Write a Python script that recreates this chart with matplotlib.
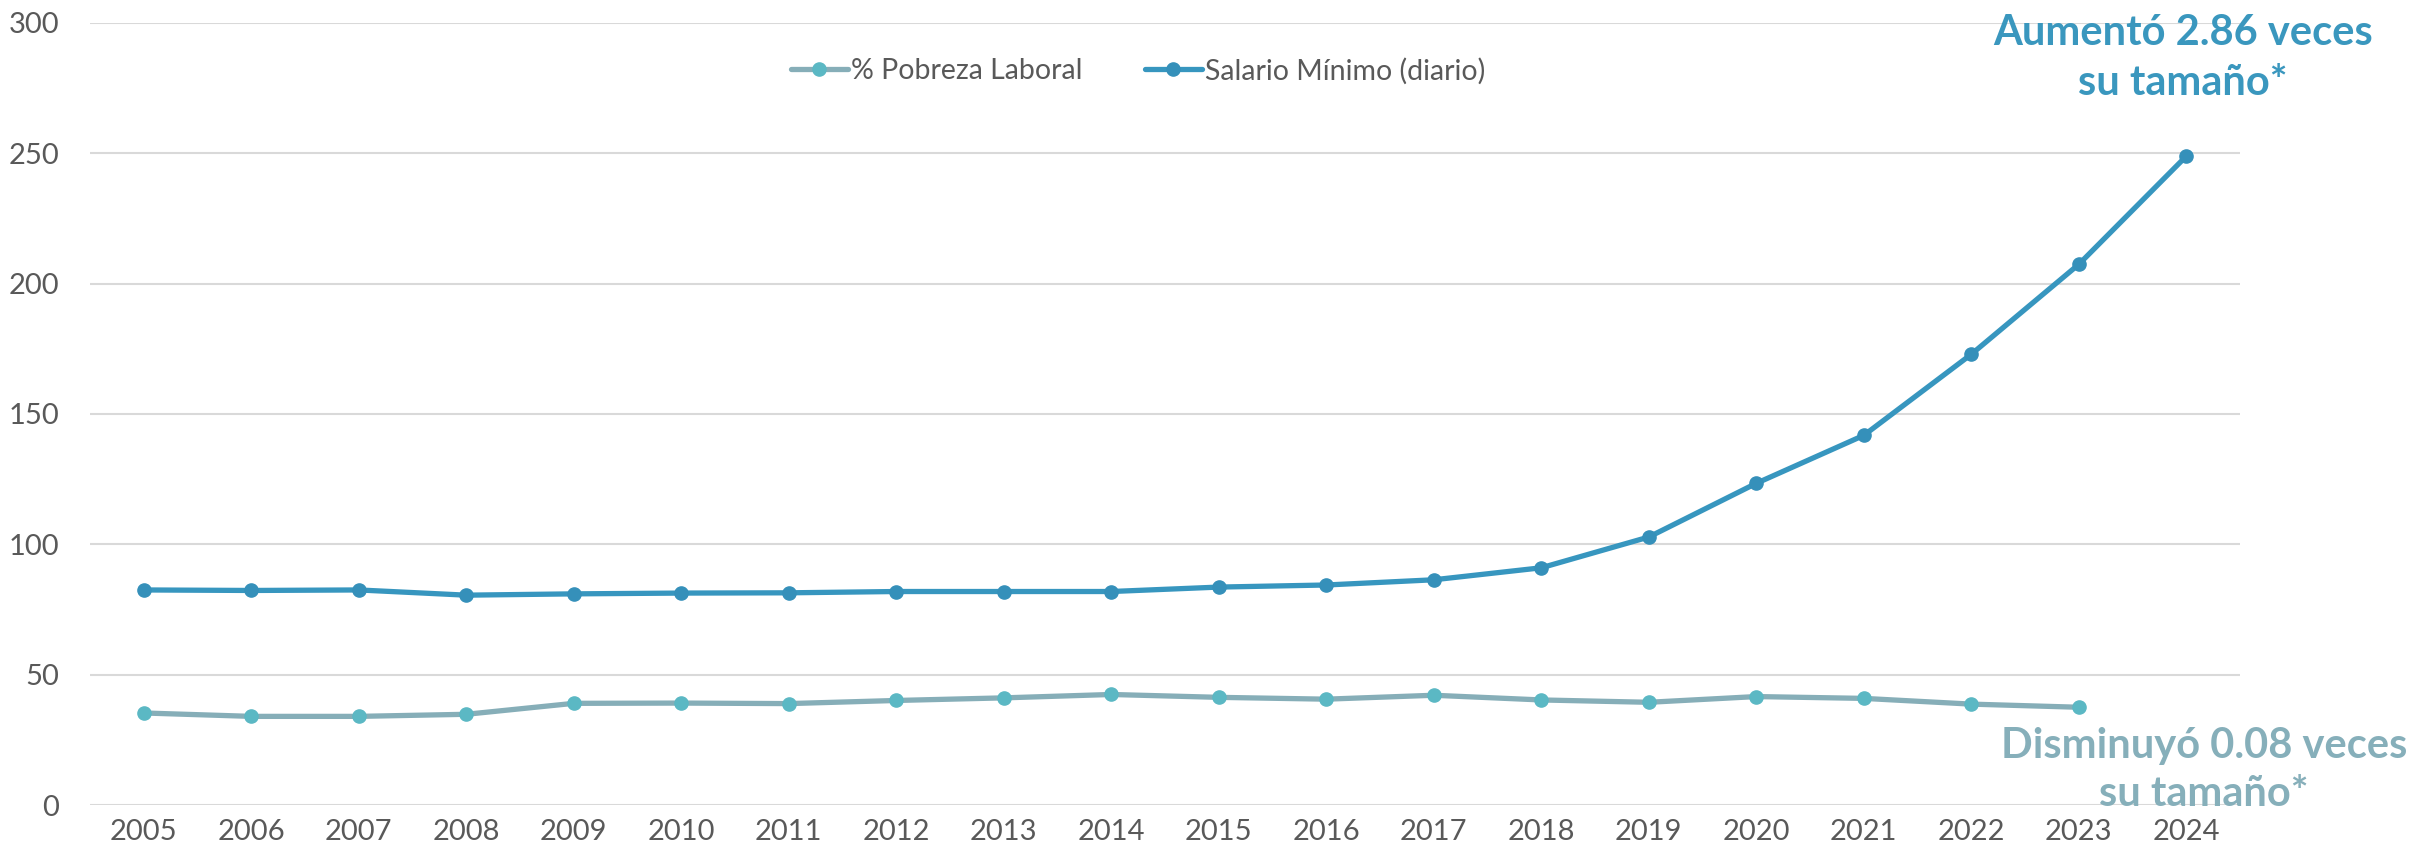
import matplotlib
matplotlib.use("Agg")
import matplotlib.pyplot as plt
from matplotlib.ticker import FixedLocator

years = list(range(2005, 2025))
salario = [82.5, 82.3, 82.5, 80.5, 81.0, 81.3, 81.4, 81.9, 81.9, 81.9, 83.6, 84.4, 86.4, 91.0, 102.8,
           123.4, 141.8, 172.9, 207.4, 248.9]
pobreza_years = list(range(2005, 2024))
pobreza = [35.3, 34.0, 34.0, 34.8, 39.0, 39.1, 38.9, 40.1, 41.1, 42.4, 41.3, 40.6, 42.1, 40.3, 39.4,
           41.6, 40.9, 38.7, 37.5]
yticks = [0, 50, 100, 150, 200, 250, 300]

c_sal = "#3796BF"
c_sal_m = "#3590BA"
c_pob = "#86AEB8"
c_pob_m = "#5BB8C4"
c_txt = "#595959"

plt.rcParams['font.family'] = ['Lato', 'DejaVu Sans']

fig = plt.figure(figsize=(24.27, 8.59), dpi=100)
ax = fig.add_axes([90/2427, 1-805/859, (2240-90)/2427, (805-23)/859])

ax.plot(pobreza_years, pobreza, color=c_pob, lw=3.8, marker='o', ms=9.5,
        mfc=c_pob_m, mec=c_pob_m, label='% Pobreza Laboral', zorder=3, solid_capstyle='round')
ax.plot(years, salario, color=c_sal, lw=3.8, marker='o', ms=9.5,
        mfc=c_sal_m, mec=c_sal_m, label='Salario Mínimo (diario)', zorder=3, solid_capstyle='round')

ax.set_xlim(2004.5, 2024.5)
ax.set_ylim(0, 300)
ax.yaxis.set_major_locator(FixedLocator(yticks))
ax.set_xticks(years)
ax.set_xticklabels([str(y) for y in years])
ax.grid(axis='y', color='#D9D9D9', lw=1.5, zorder=0)
ax.set_axisbelow(True)
for s in ax.spines.values():
    s.set_visible(False)
ax.tick_params(axis='both', length=0, labelsize=21, colors=c_txt)
ax.tick_params(axis='y', pad=22)
ax.tick_params(axis='x', pad=10)

leg = fig.legend(loc='center', bbox_to_anchor=(1138/2427, 1-71/859), ncol=2, frameon=False,
                 fontsize=20.5, handlelength=2.0, handletextpad=0.1, columnspacing=2.2,
                 labelcolor=c_txt)

fig.text(2183/2427, 1-58/859, "Aumentó 2.86 veces\nsu tamaño*", ha='center', va='center',
         fontsize=30, fontweight='bold', color="#3A97BE", linespacing=1.4)
fig.text(2204/2427, 1-770/859, "Disminuyó 0.08 veces\nsu tamaño*", ha='center', va='center',
         fontsize=30, fontweight='bold', color="#86AFBA", linespacing=1.3)

fig.savefig("out.png", dpi=100)
